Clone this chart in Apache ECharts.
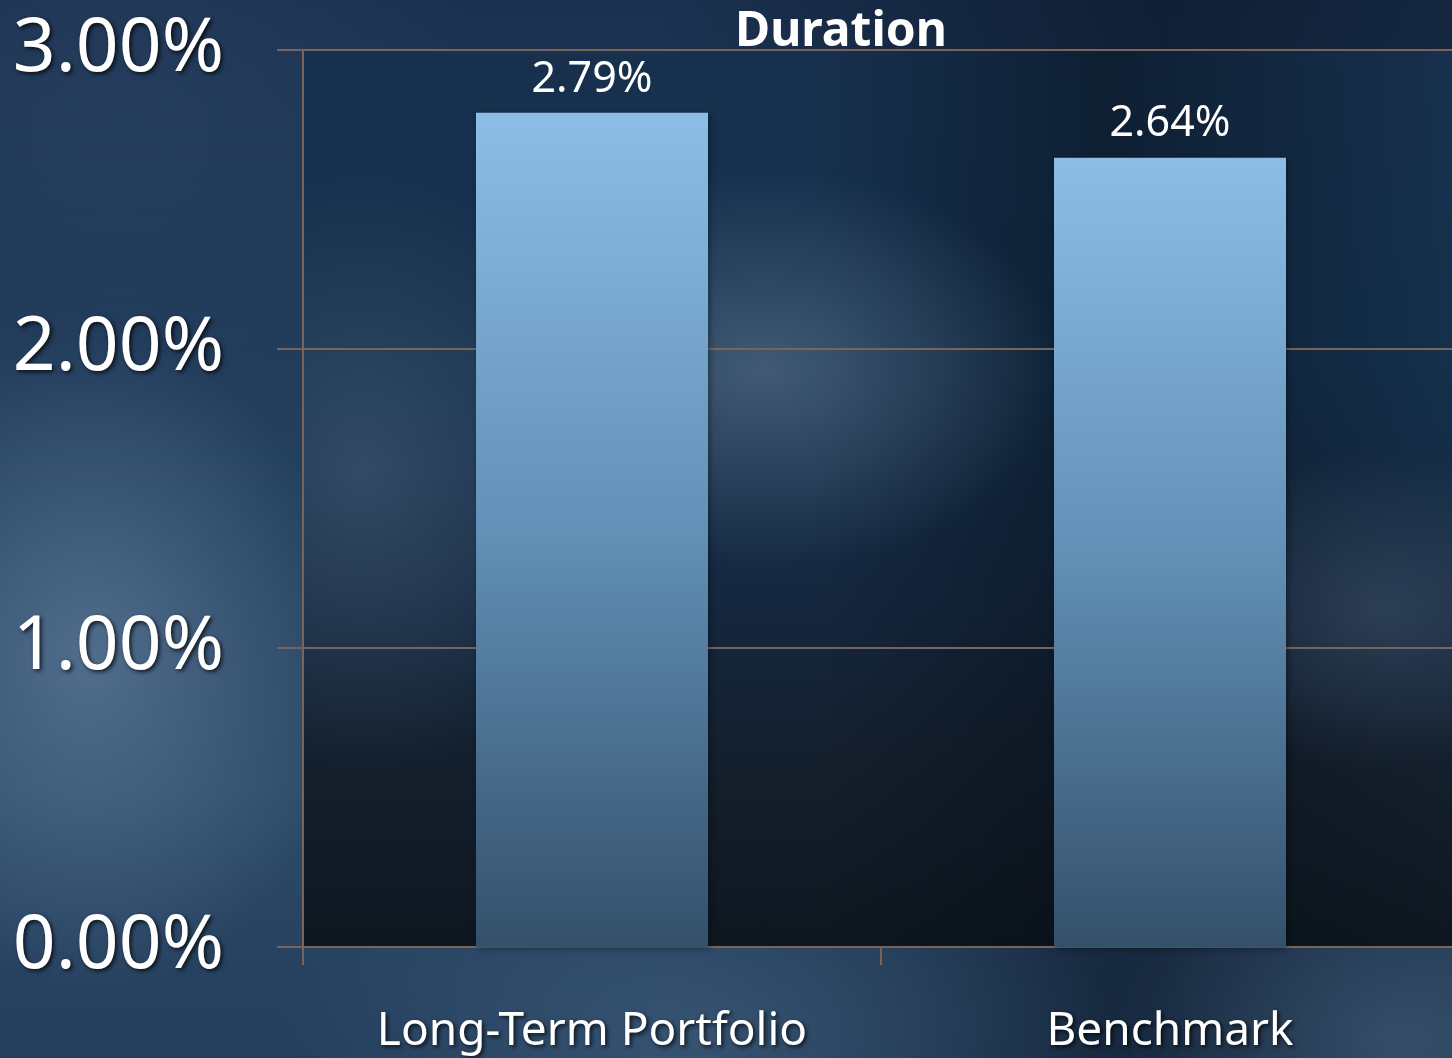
<!DOCTYPE html>
<html>
<head>
<meta charset="utf-8">
<title>Duration</title>
<script src="https://cdn.jsdelivr.net/npm/echarts@6/dist/echarts.min.js"></script>
<style>
  html, body { margin: 0; padding: 0; }
  body {
    width: 1452px; height: 1058px; overflow: hidden; position: relative;
    background:
      radial-gradient(ellipse 260px 330px at 90px 660px, rgba(88,116,148,0.85), rgba(88,116,148,0) 100%),
      radial-gradient(ellipse 420px 200px at 700px 1040px, rgba(62,92,124,0.7), rgba(62,92,124,0) 100%),
      radial-gradient(ellipse 300px 200px at 1400px 1040px, rgba(70,98,128,0.6), rgba(70,98,128,0) 100%),
      radial-gradient(ellipse 380px 260px at 120px 120px, rgba(40,64,96,0.8), rgba(40,64,96,0) 100%),
      linear-gradient(90deg, rgba(6,16,30,0) 0%, rgba(6,16,30,0) 45%, rgba(6,16,30,0.55) 80%, rgba(6,16,30,0.3) 100%),
      linear-gradient(180deg, #1b3150 0%, #24405f 45%, #2d4a69 75%, #243e5c 100%);
  }
  #plotbg {
    position: absolute; left: 303px; top: 50px; width: 1149px; height: 897px;
    background:
      radial-gradient(ellipse 300px 200px at 460px 320px, rgba(80,104,130,0.75), rgba(80,104,130,0) 100%),
      radial-gradient(ellipse 260px 300px at 60px 420px, rgba(70,94,120,0.6), rgba(70,94,120,0) 100%),
      radial-gradient(ellipse 220px 160px at 1080px 560px, rgba(64,84,108,0.55), rgba(64,84,108,0) 100%),
      linear-gradient(90deg, rgba(0,0,0,0) 0%, rgba(0,0,0,0) 45%, rgba(4,10,18,0.45) 70%, rgba(0,0,0,0) 100%),
      linear-gradient(180deg, #17304e 0%, #14304c 35%, #152840 60%, #141f2d 80%, #0e1720 100%);
  }
  #chart { position: absolute; left: 0; top: 0; width: 1452px; height: 1058px; }
</style>
</head>
<body>
<div id="plotbg"></div>
<div id="chart"></div>
<script>
const categories = ['Long-Term Portfolio', 'Benchmark']
const durationValues = [0.0279, 0.0264]
const yTicks = [0, 0.01, 0.02, 0.03]

const lineColor = '#7a645a'
const fontFamily = '"Noto Sans", "Open Sans", sans-serif'
const shadow = { textShadowColor: 'rgba(0,0,0,0.75)', textShadowBlur: 4, textShadowOffsetX: 2, textShadowOffsetY: 2 }

const pct = v => (v * 100).toFixed(2) + '%'

const chart = echarts.init(document.getElementById('chart'))
chart.setOption({
  backgroundColor: 'transparent',
  animation: false,
  title: {
    text: 'Duration',
    left: 836, top: 3,
    textAlign: 'center',
    textStyle: { color: '#ffffff', fontFamily, fontWeight: 'bold', fontSize: 48 }
  },
  // the plot runs a little past the right edge of the picture
  grid: { left: 303, width: 1156, top: 50, bottom: 111, containLabel: false, outerBoundsMode: 'none' },
  xAxis: {
    type: 'category',
    data: categories,
    axisLine: { lineStyle: { color: lineColor, width: 2 } },
    axisTick: { show: true, length: 18, lineStyle: { color: lineColor, width: 2 } },
    axisLabel: { color: '#ffffff', fontFamily, fontSize: 46, margin: 62, ...shadow }
  },
  yAxis: {
    type: 'value',
    min: yTicks[0], max: yTicks[yTicks.length - 1], interval: yTicks[1] - yTicks[0],
    axisLine: { show: true, lineStyle: { color: lineColor, width: 2 } },
    axisTick: { show: true, length: 26, lineStyle: { color: lineColor, width: 2 } },
    splitLine: { lineStyle: { color: lineColor, width: 2 } },
    axisLabel: {
      color: '#ffffff', fontFamily, fontSize: 75, margin: 79,
      padding: [14, 0, 0, 0], formatter: pct, ...shadow
    }
  },
  series: [{
    type: 'bar',
    data: durationValues,
    barWidth: 232,
    itemStyle: {
      color: {
        type: 'linear', x: 0, y: 0, x2: 0, y2: 1,
        colorStops: [
          { offset: 0, color: '#8dbde6' },
          { offset: 0.5, color: '#6290b6' },
          { offset: 1, color: '#34506b' }
        ]
      },
      shadowColor: 'rgba(0,0,0,0.35)', shadowBlur: 6, shadowOffsetX: 2, shadowOffsetY: 2
    },
    label: {
      show: true, position: 'top', distance: 12,
      color: '#ffffff', fontFamily, fontSize: 43,
      formatter: p => pct(p.value)
    }
  }]
})
</script>
</body>
</html>
